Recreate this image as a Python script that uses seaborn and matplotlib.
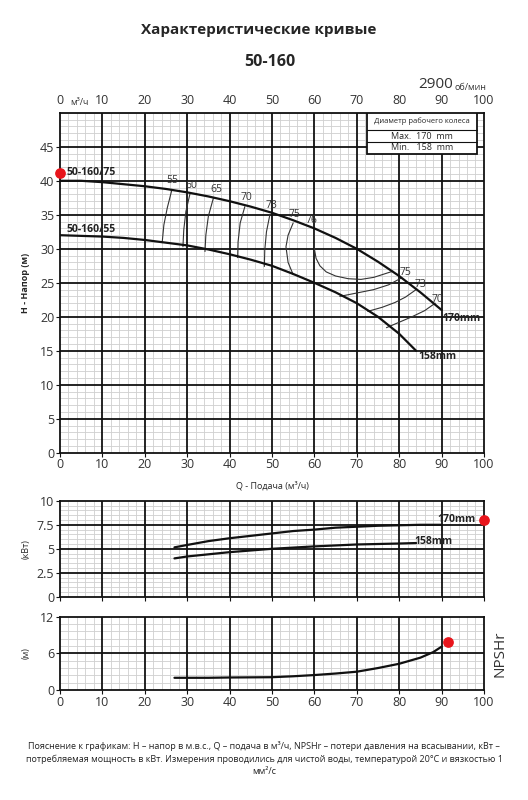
import numpy as np
import pandas as pd
import seaborn as sns
import matplotlib.pyplot as plt
from matplotlib.patches import Rectangle
from matplotlib.ticker import MultipleLocator

# H-Q curves
q_170 = [0, 5, 10, 15, 20, 25, 30, 35, 40, 45, 50, 55, 60, 65, 70, 75, 80, 85, 90]
h_170 = [40.0, 40.0, 39.8, 39.5, 39.2, 38.8, 38.3, 37.7, 37.0, 36.2, 35.3, 34.2, 33.0, 31.6, 30.0, 28.1, 26.0, 23.6, 21.0]
q_158 = [0, 5, 10, 15, 20, 25, 30, 35, 40, 45, 50, 55, 60, 65, 70, 75, 80, 84]
h_158 = [32.0, 31.9, 31.8, 31.6, 31.3, 30.9, 30.5, 29.9, 29.2, 28.4, 27.5, 26.3, 25.0, 23.6, 22.0, 20.0, 17.5, 15.0]

# efficiency iso-lines (Q, H)
eff_lines = {
    "55": ([26.4, 25.3, 24.5, 24.1], [38.7, 36.0, 33.5, 30.9]),
    "60": ([30.7, 29.7, 29.2, 29.0], [38.2, 35.5, 32.8, 30.3]),
    "65": ([36.2, 35.0, 34.4, 34.2], [37.5, 34.8, 32.0, 29.6]),
    "70": ([43.6, 42.5, 42.0, 41.9], [36.2, 33.8, 31.0, 28.7]),
    "73": ([49.5, 48.7, 48.3, 48.2], [35.0, 32.5, 29.8, 27.4]),
    "75": ([55.0, 53.8, 53.3, 53.8, 55.0], [33.8, 32.0, 30.3, 28.0, 26.2]),
    "76": ([60.0, 60.0, 60.4, 61.3, 62.8, 65.0, 68.0, 71.0, 74.0, 78.5],
           [33.0, 30.0, 28.6, 27.5, 26.6, 26.0, 25.6, 25.5, 25.8, 26.7]),
    "75r": ([66.0, 70.0, 74.0, 77.5, 80.5], [23.0, 23.5, 24.0, 24.7, 25.7]),
    "73r": ([72.6, 76.0, 79.0, 81.5, 84.0], [20.8, 21.4, 22.1, 22.9, 24.0]),
    "70r": ([77.0, 80.0, 83.0, 86.0, 88.5], [18.4, 19.2, 20.0, 20.9, 22.0]),
}
eff_labels = [("55", 26.4, 40.0), ("60", 31.0, 39.3), ("65", 36.8, 38.7), ("70", 44.0, 37.5),
              ("73", 50.0, 36.3), ("75", 55.4, 35.1), ("76", 59.3, 34.1),
              ("75", 81.5, 26.5), ("73", 85.0, 24.7), ("70", 89.0, 22.6)]

# power curves
q_p170 = [27, 30, 35, 40, 45, 50, 55, 60, 65, 70, 75, 80, 85, 90]
p_170 = [5.15, 5.4, 5.8, 6.1, 6.35, 6.6, 6.85, 7.0, 7.2, 7.3, 7.4, 7.45, 7.5, 7.5]
q_p158 = [27, 30, 40, 50, 60, 70, 80, 84]
p_158 = [4.0, 4.2, 4.65, 5.0, 5.25, 5.45, 5.55, 5.6]

# NPSHr
q_npsh = [27, 35, 40, 50, 55, 60, 65, 70, 75, 80, 85, 88, 90]
npsh = [2.0, 2.0, 2.05, 2.1, 2.25, 2.45, 2.7, 3.0, 3.6, 4.3, 5.3, 6.2, 7.1]

sns.set_style("white")
plt.rcParams['font.family'] = ['Open Sans', 'DejaVu Sans']

fig = plt.figure(figsize=(5.28, 8.0), dpi=100)
ax = fig.add_axes([0.1136, 0.434, 0.803, 0.425])
axp = fig.add_axes([0.1136, 0.254, 0.803, 0.120])
axn = fig.add_axes([0.1136, 0.1375, 0.803, 0.0915])


def grid_axes(a, ymax, ymaj, ymin):
    a.set_xlim(0, 100)
    a.set_ylim(0, ymax)
    a.xaxis.set_major_locator(MultipleLocator(10))
    a.xaxis.set_minor_locator(MultipleLocator(2))
    a.yaxis.set_major_locator(MultipleLocator(ymaj))
    a.yaxis.set_minor_locator(MultipleLocator(ymin))
    a.grid(which='minor', color='#cfcfcf', lw=0.6)
    a.set_axisbelow(True)
    for xv in range(10, 100, 10):
        a.axvline(xv, color='#111111', lw=1.3, zorder=1.5)
    for yv in np.arange(ymaj, ymax, ymaj):
        a.axhline(yv, color='#111111', lw=1.3, zorder=1.5)
    for s in a.spines.values():
        s.set_color('#111111')
        s.set_linewidth(1.3)
    a.tick_params(axis='both', which='major', labelsize=9, length=3, color='#111111',
                  labelcolor='#333333', left=True, bottom=True, pad=1)
    a.tick_params(which='minor', length=0)


def curve(a, xs, ys, lw=1.6, color='#111111', z=5):
    sns.lineplot(x=xs, y=ys, ax=a, color=color, lw=lw, zorder=z, sort=False,
                 estimator=None, errorbar=None)


grid_axes(ax, 50, 5, 1)
ax.set_yticks(range(0, 50, 5))
ax.tick_params(labeltop=True, labelbottom=True)

curve(ax, q_170, h_170)
curve(ax, q_158, h_158)
for key, (qs, hs) in eff_lines.items():
    curve(ax, qs, hs, lw=0.8, color='#333333', z=4)
for lab, qx, hy in eff_labels:
    ax.text(qx, hy, lab, fontsize=7.5, color='#333333', ha='center', va='center', zorder=6)

ax.scatter([0], [41.2], s=45, color='#e8141b', zorder=10, clip_on=False)
ax.text(1.5, 41.2, "50-160/75", fontsize=7.5, fontweight='bold', va='center', color='#222222')
ax.text(1.5, 32.8, "50-160/55", fontsize=7.5, fontweight='bold', va='center', color='#222222')
ax.text(90.3, 19.8, "170mm", fontsize=7.5, fontweight='bold', va='center', color='#222222')
ax.text(84.5, 14.2, "158mm", fontsize=7.5, fontweight='bold', va='center', color='#222222')
ax.text(4.5, 51.5, "м³/ч", fontsize=6.5, va='center', ha='center', color='#333333')

# impeller table
ax.add_patch(Rectangle((72.5, 44.0), 25.8, 6.0, facecolor='white', edgecolor='#111111', lw=1.3, zorder=7))
ax.plot([72.5, 98.3], [47.4, 47.4], color='#111111', lw=0.8, zorder=8)
ax.plot([72.5, 98.3], [45.7, 45.7], color='#111111', lw=0.8, zorder=8)
ax.text(85.4, 48.7, "Диаметр рабочего колеса", fontsize=5.5, ha='center', va='center', zorder=9)
ax.text(85.4, 46.55, "Max.  170  mm", fontsize=6.5, ha='center', va='center', zorder=9)
ax.text(85.4, 44.85, "Min.   158  mm", fontsize=6.5, ha='center', va='center', zorder=9)

ax.set_ylabel("H - Напор (м)", fontsize=6.5, fontweight='bold')
ax.yaxis.set_label_coords(-0.07, 0.5)
ax.set_xlabel("Q - Подача (м³/ч)", fontsize=6.5, labelpad=7)

# power
grid_axes(axp, 10, 2.5, 0.5)
axp.set_yticks([0, 2.5, 5, 7.5, 10])
axp.set_yticklabels(["0", "2.5", "5", "7.5", "10"])
axp.tick_params(labelbottom=False)
curve(axp, q_p170, p_170)
curve(axp, q_p158, p_158)
axp.text(89.0, 8.0, "170mm", fontsize=7.5, fontweight='bold', va='center', color='#222222', zorder=6)
axp.text(83.5, 5.75, "158mm", fontsize=7.5, fontweight='bold', va='center', color='#222222', zorder=6)
axp.scatter([100], [8.0], s=45, color='#e8141b', zorder=10, clip_on=False)
axp.set_ylabel("(кВт)", fontsize=6.5)
axp.yaxis.set_label_coords(-0.07, 0.5)

# NPSH
grid_axes(axn, 12, 6, 1.2)
curve(axn, q_npsh, npsh)
axn.scatter([91.5], [7.9], s=45, color='#e8141b', zorder=10, clip_on=False)
axn.set_ylabel("(м)", fontsize=6.5)
axn.yaxis.set_label_coords(-0.07, 0.5)
axn.text(1.02, 0.5, "NPSHr", transform=axn.transAxes, rotation=90, fontsize=11,
         va='center', ha='left', color='#333333')

fig.text(0.49, 0.962, "Характеристические кривые", fontsize=11, fontweight='bold', ha='center', va='center')
fig.text(0.511, 0.923, "50-160", fontsize=11.5, fontweight='bold', ha='center', va='center')
fig.text(0.858, 0.894, "2900", fontsize=11, ha='right', va='center', color='#333333')
fig.text(0.861, 0.891, "об/мин", fontsize=6.5, ha='left', va='center', color='#333333')

foot = ("Пояснение к графикам: Н – напор в м.в.с., Q – подача в м³/ч, NPSHr – потери давления на всасывании, кВт –\n"
        "потребляемая мощность в кВт. Измерения проводились для чистой воды, температурой 20°С и вязкостью 1\n"
        "мм²/с")
fig.text(0.5, 0.052, foot, fontsize=6.5, ha='center', va='center', linespacing=1.5, color='#222222')

fig.savefig("out.png", dpi=100)
